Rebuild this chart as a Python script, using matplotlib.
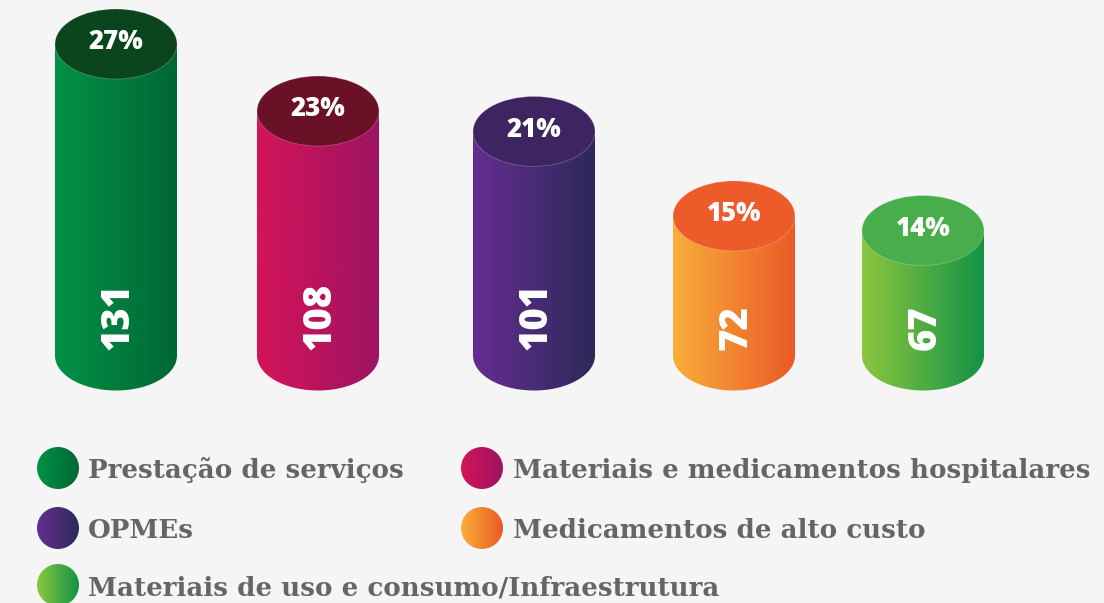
import numpy as np
import matplotlib
matplotlib.use("Agg")
import matplotlib.pyplot as plt
from matplotlib.path import Path
from matplotlib.patches import PathPatch, Ellipse, Circle
from matplotlib.colors import LinearSegmentedColormap

# ---------------- data ----------------
categories = ["Prestação de serviços", "Materiais e medicamentos hospitalares",
              "OPMEs", "Medicamentos de alto custo",
              "Materiais de uso e consumo/Infraestrutura"]
values = [131, 108, 101, 72, 67]
percents = [27, 23, 21, 15, 14]

# colours: (left of gradient, right of gradient, top ellipse)
grad_left = ["#009245", "#d4145a", "#662d91", "#f9ae3b", "#8dc63f"]
grad_right = ["#006837", "#9e1461", "#2b2a5a", "#eb5a26", "#129346"]
top_colors = ["#0b451d", "#6a1128", "#3e2460", "#ec5b29", "#48ae4c"]

# ---------------- layout ----------------
W, H = 1104, 603
BG = "#f5f5f5"
x_centers = [116, 318, 534, 734, 923]      # pixel centres of cylinders
half_w = 61                                 # pixel half width
base_value = 24.1                           # value at bottom ellipse centre
px_per_unit = 2.914
base_px = 355.5
ell_half_h = 35 / px_per_unit               # in value units
ymin = base_value - (H - base_px) / px_per_unit
ymax = base_value + base_px / px_per_unit

fig = plt.figure(figsize=(W / 100, H / 100), dpi=100, facecolor=BG)
ax = fig.add_axes([0, 0, 1, 1])
ax.set_xlim(0, W)
ax.set_ylim(ymin, ymax)
ax.axis("off")
ax.set_facecolor(BG)

grad = np.linspace(0, 1, 256).reshape(1, -1)

for i, v in enumerate(values):
    cx = x_centers[i]
    x0, x1 = cx - half_w, cx + half_w
    # body path: rectangle + lower half ellipse
    t = np.linspace(0, np.pi, 80)
    arc_x = cx + half_w * np.cos(t)
    arc_y = base_value - ell_half_h * np.sin(t)
    verts = [(x0, v), (x1, v)] + list(zip(arc_x, arc_y)) + [(x0, v)]
    codes = [Path.MOVETO] + [Path.LINETO] * (len(verts) - 2) + [Path.CLOSEPOLY]
    body = PathPatch(Path(verts, codes), facecolor="none", edgecolor="none")
    ax.add_patch(body)
    cmap = LinearSegmentedColormap.from_list(f"c{i}", [grad_left[i], grad_right[i]])
    im = ax.imshow(grad, cmap=cmap, aspect="auto",
                   extent=[x0, x1, base_value - ell_half_h - 1, v + 1],
                   interpolation="bicubic", zorder=2)
    im.set_clip_path(body)
    # top ellipse
    top = Ellipse((cx, v), 2 * half_w, 2 * ell_half_h, facecolor=top_colors[i],
                  edgecolor="#ffffff40", linewidth=0.6, zorder=3)
    ax.add_patch(top)
    ax.text(cx, v + 0.6, f"{percents[i]}%", color="white", fontsize=18.5,
            fontweight="heavy", family="Open Sans", ha="center", va="center",
            zorder=4)
    ax.text(cx + 2, base_value + 1.9, f"{v}", color="white", fontsize=27.5,
            fontweight="heavy", family="Open Sans", rotation=90,
            ha="center", va="bottom", zorder=4)

# ---------------- legend (pixel coordinates) ----------------
lax = fig.add_axes([0, 0, 1, 1])
lax.set_xlim(0, W)
lax.set_ylim(H, 0)
lax.axis("off")
lax.patch.set_alpha(0)

leg_circle_x = [58, 482, 58, 482, 58]
leg_circle_y = [468, 468, 528, 528, 585]
leg_text_x = [88, 513, 88, 513, 88]
leg_base_y = [478, 478, 538, 538, 595]
r = 21
for i, lab in enumerate(categories):
    cx, cy = leg_circle_x[i], leg_circle_y[i]
    circ = Circle((cx, cy), r, facecolor="none", edgecolor="none")
    lax.add_patch(circ)
    cmap = LinearSegmentedColormap.from_list(f"l{i}", [grad_left[i], grad_right[i]])
    im = lax.imshow(grad, cmap=cmap, aspect="auto",
                    extent=[cx - r, cx + r, cy + r, cy - r],
                    interpolation="bicubic", zorder=2)
    im.set_clip_path(circ)
    lax.text(leg_text_x[i], leg_base_y[i], lab, color="#646568", fontsize=18.8,
             fontweight="bold", family="DejaVu Serif", ha="left", va="baseline")

fig.savefig("out.png", dpi=100, facecolor=BG)
